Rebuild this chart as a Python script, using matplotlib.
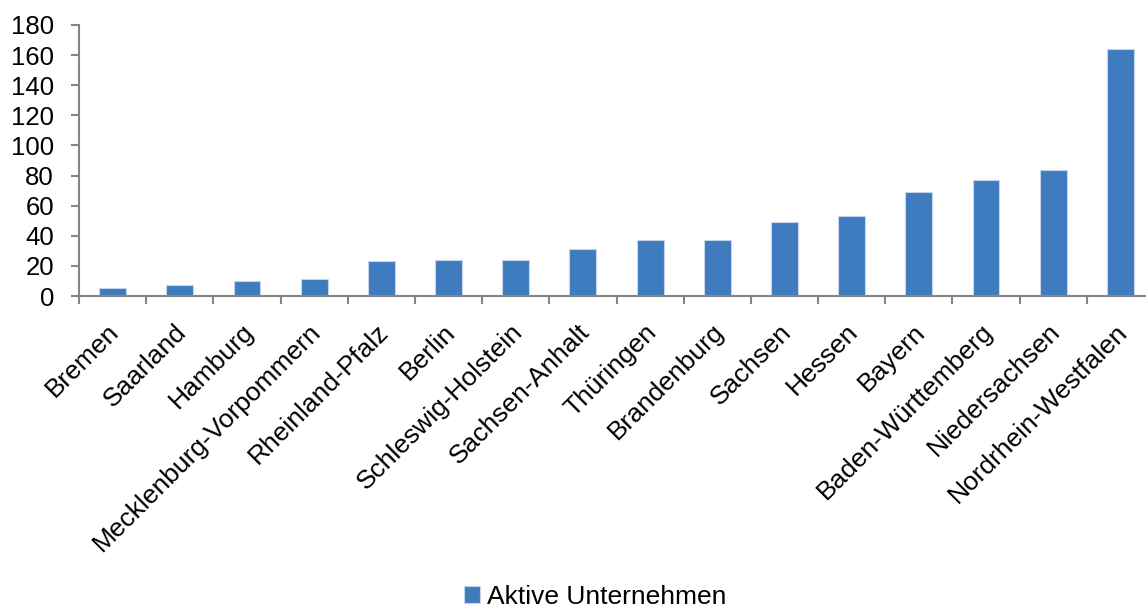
import matplotlib
matplotlib.use("Agg")
import matplotlib.pyplot as plt
import matplotlib.transforms as mtransforms
import numpy as np

plt.rcParams['font.family'] = ['Liberation Sans', 'DejaVu Sans']

bundeslaender = [
    "Bremen", "Saarland", "Hamburg", "Mecklenburg-Vorpommern", "Rheinland-Pfalz",
    "Berlin", "Schleswig-Holstein", "Sachsen-Anhalt", "Thüringen", "Brandenburg",
    "Sachsen", "Hessen", "Bayern", "Baden-Württemberg", "Niedersachsen",
    "Nordrhein-Westfalen",
]
aktive_unternehmen = [5, 7, 10, 11, 23, 24, 24, 31, 37, 37, 49, 53, 69, 77, 84, 164]
y_ticks = [0, 20, 40, 60, 80, 100, 120, 140, 160, 180]
series_name = "Aktive Unternehmen"

bar_color = "#3F7CBF"
axis_gray = "#868686"

fig = plt.figure(figsize=(11.46, 6.07), dpi=100)
ax = fig.add_axes([79 / 1146, 1 - 296 / 607, (1154 - 79) / 1146, (296 - 25) / 607])

x = np.arange(len(bundeslaender))
bars = ax.bar(x, aktive_unternehmen, width=0.4, color=bar_color,
              edgecolor="#C6D6EA", linewidth=0.8, label=series_name, zorder=2)

ax.set_xlim(-0.5, len(bundeslaender) - 0.5)
ax.set_ylim(0, 180)
ax.set_yticks(y_ticks)
ax.set_yticklabels([str(v) for v in y_ticks], fontsize=18.5)

# category ticks sit on the boundaries between bars
ax.set_xticks(np.arange(len(bundeslaender) + 1) - 0.5)
ax.set_xticklabels([])
ax.tick_params(axis="x", direction="out", length=6, width=1.5, color=axis_gray)
ax.tick_params(axis="y", direction="out", length=6, width=1.5, color=axis_gray, pad=12)

for side in ("top", "right"):
    ax.spines[side].set_visible(False)
for side in ("left", "bottom"):
    ax.spines[side].set_color(axis_gray)
    ax.spines[side].set_linewidth(1.5)

# rotated category labels, right end anchored just below each bar
offset = mtransforms.ScaledTranslation(3 / 100, -32 / 100, fig.dpi_scale_trans)
for xi, name in zip(x, bundeslaender):
    ax.text(xi, 0, name, rotation=45, ha="right", va="center",
            rotation_mode="anchor", fontsize=19,
            transform=ax.get_xaxis_transform() + offset, clip_on=False)

leg = fig.legend(handles=[bars], labels=[series_name], loc="center",
                 bbox_to_anchor=(595 / 1146, 1 - 597 / 607), frameon=False,
                 fontsize=19, handlelength=0.6, handleheight=0.6,
                 handletextpad=0.25)

fig.savefig("out.png", dpi=100)
